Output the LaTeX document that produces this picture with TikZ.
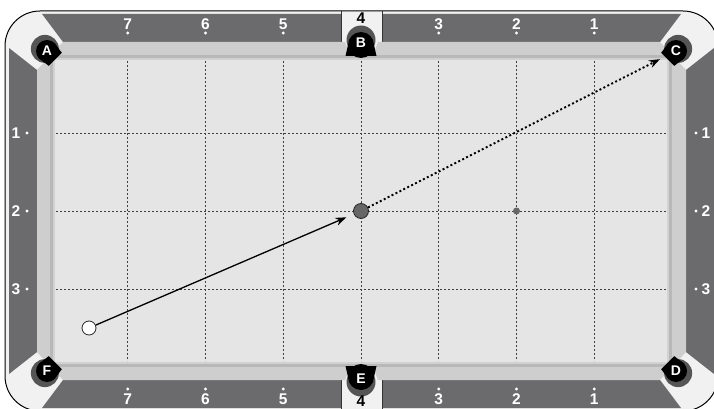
\documentclass[tikz,border=0pt]{standalone}
\usepackage{fontspec}
\setsansfont{Liberation Sans}
\usepackage{xcolor}
\usetikzlibrary{arrows.meta,calc}

\definecolor{railgray}{HTML}{6B6B6D}
\definecolor{capgray}{HTML}{F1F1F1}
\definecolor{cushgray}{HTML}{CECECE}
\definecolor{clothgray}{HTML}{E5E5E5}
\definecolor{ringgray}{HTML}{555555}
\definecolor{ballgray}{HTML}{666666}

\begin{document}
\begin{tikzpicture}[
    x=1pt, y=-1pt,
    rail/.style={fill=railgray},
    % white numerals on the rails
    num/.style={font=\fontsize{15.5}{15.5}\selectfont\sffamily\bfseries, text=white, inner sep=0pt},
    sidenum/.style={num, text=black},
    pocketlbl/.style={font=\fontsize{14}{14}\selectfont\sffamily\bfseries, text=white, inner sep=0pt},
    gridline/.style={black!75, line width=0.7pt, dash pattern=on 2pt off 2pt},
    ball/.style={circle, draw=black!85, line width=0.8pt, inner sep=0pt},
    shot/.style={-{Stealth[length=11pt,width=8pt]}, line width=1.3pt},
    aim/.style={-{Stealth[length=11pt,width=8pt]}, line width=1.9pt, dash pattern=on 2pt off 2.4pt},
]
    \useasboundingbox (0,0) rectangle (714,409);

    % table frame and corner caps
    \filldraw[fill=capgray, draw=black, line width=1pt, rounded corners=35pt] (5,11) rectangle (718,411);

    % rails
    \fill[rail] (42,14) -- (341,14) -- (341,42) -- (63,42) -- cycle;
    \fill[rail] (382,14) -- (681,14) -- (660,42) -- (382,42) -- cycle;
    \fill[rail] (42,408) -- (341,408) -- (341,380) -- (63,380) -- cycle;
    \fill[rail] (382,408) -- (681,408) -- (660,380) -- (382,380) -- cycle;
    \fill[rail] (9,48) -- (37,70) -- (37,352) -- (9,374) -- cycle;
    \fill[rail] (714,48) -- (686,70) -- (686,352) -- (714,374) -- cycle;
    \draw[black!80, line width=0.8pt] (341,11) -- (341,42) (382,11) -- (382,42)
        (341,380) -- (341,411) (382,380) -- (382,411);

    % cushions
    \fill[cushgray] (63,42) -- (345,42) -- (350,55) -- (373,55) -- (378,42) -- (660,42)
        -- (686,70) -- (686,352) -- (660,380) -- (378,380) -- (373,367) -- (350,367)
        -- (345,380) -- (63,380) -- (37,352) -- (37,70) -- cycle;

    % cloth with shadow along the cushion noses
    \fill[clothgray] (50,55) rectangle (672,367);
    \draw[black!28, line width=3pt] (51.5,56.5) rectangle (670.5,365.5);
    \draw[black!18, line width=2pt] (54,59) rectangle (668,363);

    % grid
    \foreach \x in {127.75,205.5,283.25,361,438.75,516.5,594.25}
        \draw[gridline] (\x,61) -- (\x,361);
    \foreach \y in {133,211,289}
        \draw[gridline] (56,\y) -- (666,\y);

    % pockets
    \coordinate (pA) at (47,51);
    \coordinate (pB) at (361,43);
    \coordinate (pC) at (676,51);
    \coordinate (pD) at (676,371);
    \coordinate (pE) at (361,379);
    \coordinate (pF) at (47,371);
    \foreach \p/\d/\l in {pA/45/A, pC/135/C, pD/225/D, pF/315/F} {
        \fill[ringgray] ($(\p)+({\d+180}:3)$) circle (14pt);
        \fill[black] (\p) circle (11pt);
        \fill[black] ($(\p)+({\d-95}:11)$) -- ($(\p)+({\d-38}:15)$)
            -- ($(\p)+({\d+38}:15)$) -- ($(\p)+({\d+95}:11)$) -- cycle;
        \node[pocketlbl] at (\p) {\l};
    }
    \fill[ringgray] (361,40) circle (14.5pt);
    \fill[black] (361,45) circle (13pt);
    \fill[black] (348,45) -- (374,45) -- (376.5,56) -- (345.5,56) -- cycle;
    \node[pocketlbl] at (pB) {B};
    \fill[ringgray] (361,382) circle (14.5pt);
    \fill[black] (361,377) circle (13pt);
    \fill[black] (348,377) -- (374,377) -- (376.5,366) -- (345.5,366) -- cycle;
    \node[pocketlbl] at (pE) {E};

    % diamonds
    \foreach \x/\n in {127.75/7, 205.5/6, 283.25/5, 438.75/3, 516.5/2, 594.25/1} {
        \node[num] at (\x,24) {\n};
        \fill[white] (\x,33) circle (1.7pt);
        \fill[white] (\x,389) circle (1.7pt);
        \node[num] at (\x,399) {\n};
    }
    \foreach \y/\n in {133/1, 211/2, 289/3} {
        \node[num] at (16,\y) {\n};
        \fill[white] (27,\y) circle (1.7pt);
        \fill[white] (696,\y) circle (1.7pt);
        \node[num] at (706,\y) {\n};
    }
    \node[sidenum] (topfour) at (361,18) {4};
    \node[sidenum] (botfour) at (361,401.5) {4};

    % balls and shot lines
    \node[ball, fill=white, minimum size=14pt] (cue) at (89,328) {};
    \node[ball, fill=ballgray, minimum size=15pt] (obj) at (361,211) {};
    \node[circle, fill=ballgray, inner sep=0pt, minimum size=7pt] (spot) at (516.5,211) {};
    \draw[shot, shorten >=8pt] (cue) -- (obj);
    \draw[aim, shorten >=18pt] (obj) -- (pC);
\end{tikzpicture}
\end{document}
